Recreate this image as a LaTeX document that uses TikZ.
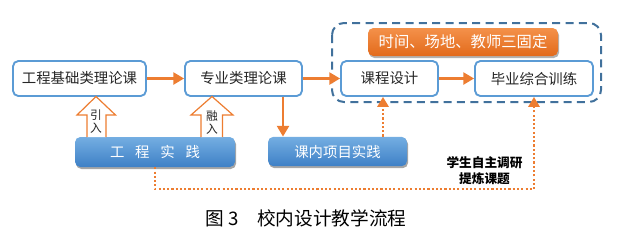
\documentclass[tikz,border=0pt]{standalone}
\usepackage{fontspec}
\setmainfont{Noto Sans CJK SC}
\usetikzlibrary{arrows.meta,calc,shadows}
\definecolor{bl}{HTML}{5B9BD5}
\definecolor{dbl}{HTML}{41719C}
\definecolor{or}{HTML}{ED7D31}
\definecolor{btop}{HTML}{74AEE2}
\definecolor{bbot}{HTML}{3E80C6}
\definecolor{otop}{HTML}{F4914A}
\definecolor{obot}{HTML}{E26A1B}
\tikzset{
  wbox/.style={draw=bl, line width=1.4pt, rounded corners=4pt, fill=white, inner sep=0pt,
    font=\fontsize{10.8}{13}\selectfont, text=black!85},
  bbox/.style={draw=none, rounded corners=4pt, top color=btop, bottom color=bbot, inner sep=0pt,
    text=white, font=\fontsize{10.8}{13}\selectfont,
    drop shadow={shadow xshift=0.8pt, shadow yshift=-1.5pt, opacity=0.35, fill=black}},
  obox/.style={draw=none, rounded corners=4pt, top color=otop, bottom color=obot, inner sep=0pt,
    text=white, font=\fontsize{11.5}{13}\selectfont,
    drop shadow={shadow xshift=0.8pt, shadow yshift=-1.5pt, opacity=0.3, fill=black}},
  oarrow/.style={draw=or, line width=1.6pt, -{Triangle[length=8pt,width=9pt]}},
  odot/.style={draw=or, line width=1.6pt, dash pattern=on 1.6pt off 1.6pt, -{Triangle[length=7.5pt,width=8.5pt]}},
  hollow/.style={draw=or, line width=0.9pt, fill=white, line join=miter},
  small/.style={font=\fontsize{8.8}{9.8}\selectfont, text=black!85, align=center, inner sep=0pt},
}
\begin{document}
\begin{tikzpicture}[x=0.75pt,y=-0.75pt]
\useasboundingbox (0,0) rectangle (618,244);
% dashed container
\draw[dbl, line width=1.5pt, dash pattern=on 6pt off 4pt, rounded corners=9pt] (332,23) rectangle (601,102);
\node[obox, minimum width=142.5pt, minimum height=21pt] (fix) at (463,42) {时间、场地、教师三固定};
% white boxes
\node[wbox, minimum width=99.75pt, minimum height=26.25pt] (b1) at (79.5,78.5) {工程基础类理论课};
\node[wbox, minimum width=87.75pt, minimum height=26.25pt] (b2) at (243.5,78.5) {专业类理论课};
\node[wbox, minimum width=72.75pt, minimum height=26.25pt] (b3) at (389.5,78.5) {课程设计};
\node[wbox, minimum width=88.5pt, minimum height=26.25pt] (b4) at (534,78.5) {毕业综合训练};
% blue boxes
\node[bbox, minimum width=120pt, minimum height=22.5pt] (gc) at (155,152) {工\hspace{0.75em}程\hspace{0.75em}实\hspace{0.75em}践};
\node[bbox, minimum width=104.25pt, minimum height=22pt] (ki) at (337.5,151.5) {课内项目实践};
% solid arrows
\draw[oarrow] (b1.east) -- (b2.west);
\draw[oarrow] (b2.east) -- (b3.west);
\draw[oarrow] (b3.east) -- (b4.west);
\coordinate (d1) at ($(b2.south)+(39.5,0)$);
\draw[oarrow] (d1) -- (d1 |- ki.north);
% dotted arrows
\coordinate (d2) at ($(b3.south)+(-6.5,0)$);
\draw[odot] (d2 |- ki.north) -- (d2);
\draw[odot] (gc.south) -- ++(0,22) -| (b4.south);
% hollow arrows
\draw[hollow] (87,137) -- (87,115) -- (77,115) -- (96,96.5) -- (115.5,115) -- (106,115) -- (106,137);
\node[small] (yr) at (96,122) {引\\入};
\draw[hollow] (201,137) -- (201,115) -- (191,115) -- (212,96.5) -- (233,115) -- (222.5,115) -- (222.5,137);
\node[small] (rr) at (212,122.5) {融\\入};
% label
\node[font=\fontsize{9.5}{12}\selectfont\bfseries, align=center, inner sep=0pt] (lab) at (484.5,171) {学生自主调研\\提炼课题};
% caption
\node[font=\fontsize{14}{16}\selectfont, inner sep=0pt, anchor=west] (cap) at (205,218) {图 3\hspace{1em}校内设计教学流程};
\end{tikzpicture}
\end{document}
